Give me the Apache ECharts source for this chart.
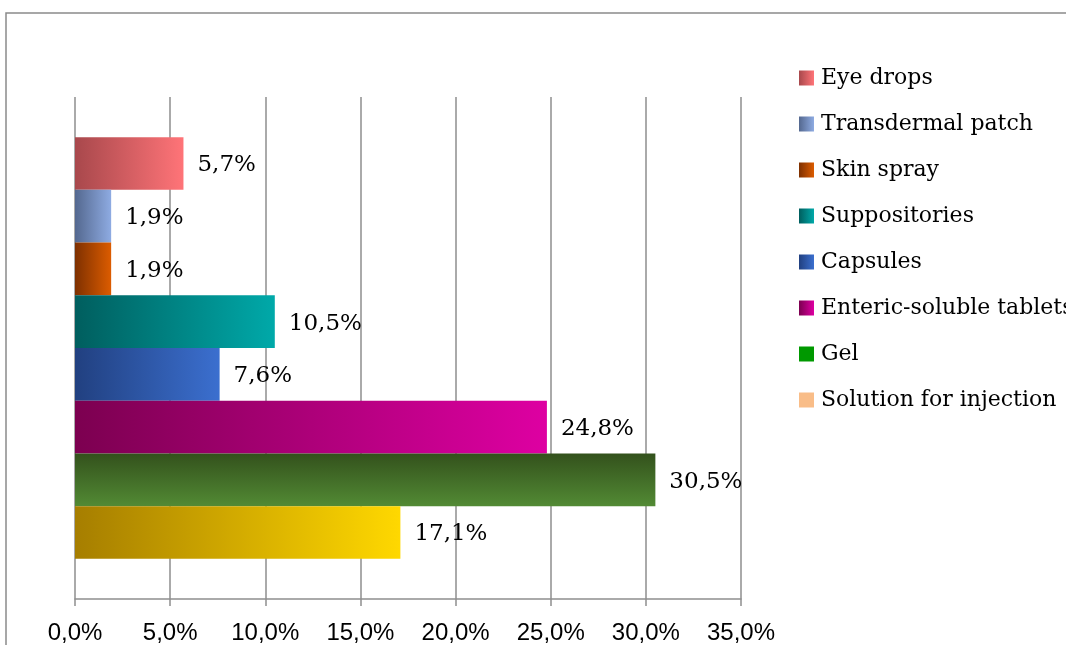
<!DOCTYPE html>
<html>
<head>
<meta charset="utf-8">
<style>html,body{margin:0;padding:0;background:#fff;}#c{width:1066px;height:645px;}</style>
<script src="https://cdn.jsdelivr.net/npm/echarts@6/dist/echarts.min.js"></script>
</head>
<body>
<div id="c"></div>
<script>
const seriesNames = ['Eye drops','Transdermal patch','Skin spray','Suppositories','Capsules','Enteric-soluble tablets','Gel','Solution for injection'];
const seriesValues = [5.7, 1.9, 1.9, 10.5, 7.6, 24.8, 30.5, 17.1];
const tickValues = [0, 5, 10, 15, 20, 25, 30, 35];
const barColors = [
  ['#a8484c','#ff7478'],
  ['#54688f','#8eabe2'],
  ['#7e3000','#dc5c00'],
  ['#005e5e','#00a9a9'],
  ['#214080','#3b6fcf'],
  ['#7c0050','#de00a2'],
  ['#33511c','#528a34'],
  ['#a67e00','#ffd800']
];
const legendColors = [null,null,null,null,null,null,'#009900','#f9bd88'];

function grad(i){
  const c = barColors[i];
  if (i === 6) return new echarts.graphic.LinearGradient(0,0,0,1,[{offset:0,color:c[0]},{offset:1,color:c[1]}]);
  return new echarts.graphic.LinearGradient(0,0,1,0,[{offset:0,color:c[0]},{offset:1,color:c[1]}]);
}
const fmt = v => v.toFixed(1).replace('.', ',') + '%';

const chart = echarts.init(document.getElementById('c'), null, {renderer:'canvas'});
const series = seriesNames.map((n,i)=>({
  name:n, type:'bar', data:[seriesValues[i]],
  barGap:'0%', barCategoryGap:'16%',
  itemStyle:{color:grad(i)},
  label:{show:true, position:'right', distance:14, formatter:p=>fmt(p.value),
    fontFamily:'DejaVu Serif', fontSize:23, color:'#000', offset:[0,2]}
}));
chart.setOption({
  animation:false,
  backgroundColor:'#fff',
  graphic:[{type:'rect', shape:{x:6,y:13,width:1100,height:700}, style:{fill:'none', stroke:'#8a8a8a', lineWidth:1.5}, z:100}],
  grid:{left:75, right:325, top:97, bottom:46},
  legend:{orient:'vertical', left:799, top:63, padding:0, itemWidth:15, itemHeight:15, itemGap:16, icon:'rect',
    data:seriesNames.map((n,i)=> legendColors[i] ? {name:n, itemStyle:{color:legendColors[i]}} : {name:n}),
    textStyle:{fontFamily:'DejaVu Serif', fontSize:22, color:'#000', lineHeight:30, padding:[0,0,0,2]}},
  xAxis:{type:'value', min:0, max:35, interval:5,
    axisLine:{show:true, lineStyle:{color:'#8e8e8e', width:1.5}},
    axisTick:{show:true, length:7, lineStyle:{color:'#8e8e8e', width:1.5}},
    splitLine:{show:true, lineStyle:{color:'#8e8e8e', width:1.5}},
    axisLabel:{formatter:v=>fmt(v), fontFamily:'Liberation Sans, Arial, sans-serif', fontSize:24, color:'#000', margin:22}},
  yAxis:{type:'category', data:['All'], axisLine:{show:false}, axisTick:{show:false}, axisLabel:{show:false}},
  series:series
});
</script>
</body>
</html>
